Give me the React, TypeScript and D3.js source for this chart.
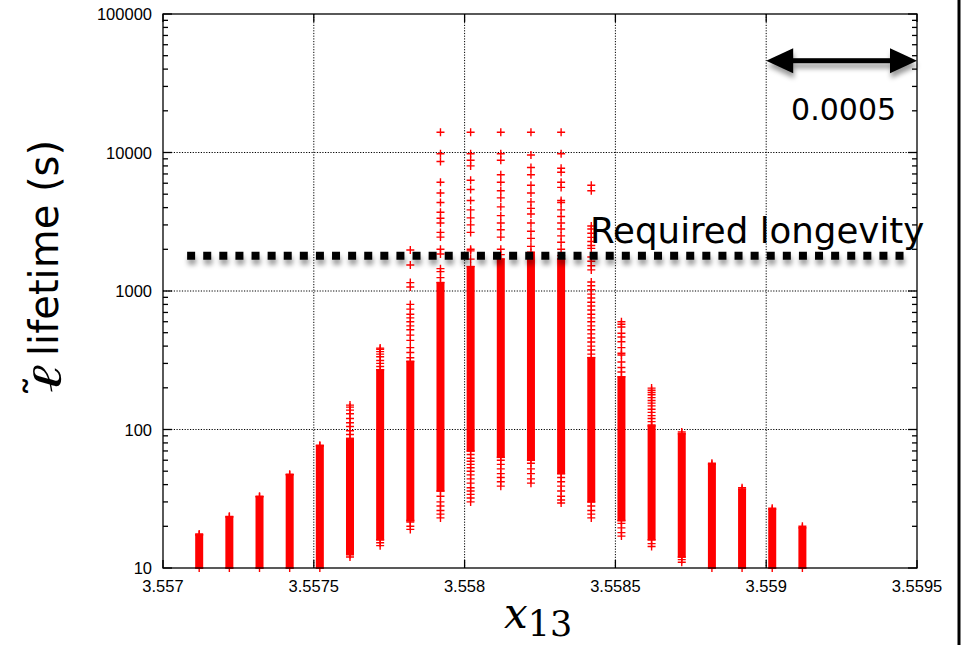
import React from 'react';
import * as d3 from 'd3';

// ---- data ----
const COLUMN_X = [
  3.55712, 3.55722, 3.55732, 3.55742, 3.55752, 3.55762, 3.55772, 3.55782, 3.55792, 3.55802,
  3.55812, 3.55822, 3.55832, 3.55842, 3.55852, 3.55862, 3.55872, 3.55882, 3.55892, 3.55902, 3.55912,
];
// dense (solid) range of each column of points
const DENSE_LOW = [10, 10, 10, 10, 10, 12.5, 16, 22, 36, 70, 63, 60, 48, 30, 22, 16, 12, 10, 10, 10, 10];
const DENSE_HIGH = [17.3, 23.3, 32.6, 47, 76, 86, 270, 310, 1150, 1500, 1700, 1900, 1700, 330, 240, 106, 93, 56, 37, 26.5, 19.5];
// individually visible points outside the dense range
const SPARSE_POINTS: number[][] = [
  [17.6],
  [23.6],
  [33],
  [47.5],
  [77],
  [12, 12.8, 92, 98, 105, 112, 120, 130, 138, 145, 150],
  [14.5, 15.2, 285, 300, 315, 335, 350, 365, 380, 387],
  [19, 20, 21.5, 330, 360, 390, 440, 480, 525, 560, 600, 640, 680, 740, 800, 1070, 1150, 1540, 1977],
  [23, 24.5, 26, 28, 30, 33, 1250, 1380, 1450, 1850, 2000, 2450, 2650, 3100, 3350, 3700, 4350, 5100, 6100, 8600, 9800, 14000],
  [30, 32, 34, 36, 38, 41, 44, 47, 50, 53, 56, 59, 62, 66, 1700, 1950, 2000, 2650, 3000, 3370, 3850, 4500, 5400, 6300, 8000, 8800, 9800, 14000],
  [39, 42, 45, 48, 52, 56, 60, 1830, 2000, 2450, 2770, 3100, 3500, 4050, 4700, 5300, 6100, 6900, 8800, 9800, 14000],
  [41, 44, 48, 52, 57, 2100, 2400, 2700, 3100, 3600, 3950, 4400, 5100, 5800, 6900, 7800, 9600, 14000],
  [29.5, 31, 33, 36, 39, 42, 45, 1800, 2000, 2250, 2500, 2800, 3100, 3450, 3850, 4350, 4500, 5600, 6100, 7200, 7700, 9800, 14000],
  [23, 24.5, 26, 28, 350, 375, 400, 428, 458, 490, 525, 560, 600, 640, 680, 730, 780, 830, 890, 950, 1020, 1090, 1160, 1420, 1520, 1640, 1760, 2030, 2130, 2280, 2440, 2610, 2800, 2950, 5300, 5800],
  [17, 18, 19.5, 21, 260, 280, 307, 345, 355, 390, 430, 465, 495, 550, 575, 600],
  [14.3, 15, 108, 114, 120, 126, 133, 140, 148, 155, 162, 170, 178, 185, 192, 199],
  [11, 11.5, 96],
  [57],
  [38],
  [27],
  [20],
];

const X_DOMAIN = [3.557, 3.5595];
const Y_DOMAIN = [10, 100000];
const X_TICKS = [3.557, 3.5575, 3.558, 3.5585, 3.559, 3.5595];
const X_TICK_LABELS = ['3.557', '3.5575', '3.558', '3.5585', '3.559', '3.5595'];
const Y_TICKS = [10, 100, 1000, 10000, 100000];
const Y_TICK_LABELS = ['10', '100', '1000', '10000', '100000'];

const LONGEVITY_VALUE = 1800;
const LONGEVITY_X = [3.55708, 3.55948];
const LONGEVITY_LABEL = 'Required longevity';
const ARROW_X = [3.559, 3.5595];
const ARROW_Y = 46000;
const ARROW_LABEL = '0.0005';

export default function App() {
  const W = 963;
  const H = 645;
  const left = 163, right = 917, top = 14, bottom = 568;
  const x = d3.scaleLinear().domain(X_DOMAIN).range([left, right]);
  const y = d3.scaleLog().domain(Y_DOMAIN).range([bottom, top]);
  const minorY = y.ticks().filter((t) => !Y_TICKS.some((m) => Math.abs(m - t) < 1e-9));

  const red = '#ff0000';
  const mk = 4;
  const plus = (cx: number, cy: number, key: string) => (
    <path key={key} d={`M${cx - mk},${cy}H${cx + mk}M${cx},${cy - mk}V${cy + mk}`} stroke={red} strokeWidth={1.4} fill="none" />
  );

  const ay = y(ARROW_Y);
  const ax0 = x(ARROW_X[0]);
  const ax1 = x(ARROW_X[1]);
  const headL = 27, headH = 12.5;

  return (
    <svg width={W} height={H} style={{ position: 'absolute', left: 0, top: 0, background: '#fff' }}>
      <defs>
        <filter id="shadow" filterUnits="userSpaceOnUse" x={0} y={0} width={W} height={H}>
          <feDropShadow dx={1} dy={5} stdDeviation={2.5} floodColor="#000" floodOpacity={0.4} />
        </filter>
      </defs>
      <rect x={0} y={0} width={W} height={H} fill="#fff" />

      {/* grid */}
      <g stroke="#000" strokeWidth={1} strokeDasharray="1.2,1.5">
        {X_TICKS.slice(1, -1).map((t, i) => (
          <line key={'gx' + i} x1={x(t)} x2={x(t)} y1={top} y2={bottom} />
        ))}
        {Y_TICKS.slice(1, -1).map((t, i) => (
          <line key={'gy' + i} x1={left} x2={right} y1={y(t)} y2={y(t)} />
        ))}
      </g>

      {/* points */}
      <g>
        {COLUMN_X.map((cx, i) => {
          const px = x(cx);
          const y0 = y(DENSE_HIGH[i]);
          const y1 = y(DENSE_LOW[i]);
          return (
            <g key={'c' + i}>
              <rect x={px - mk} y={y0 - 0.8} width={mk * 2} height={y1 - y0 + 1.6} fill={red} />
              {plus(px, y0, 'h' + i)}
              {plus(px, y1, 'l' + i)}
              {SPARSE_POINTS[i].map((v, j) => plus(px, y(v), `s${i}_${j}`))}
            </g>
          );
        })}
      </g>

      {/* frame and ticks */}
      <g stroke="#000" strokeWidth={1.3} fill="none">
        <rect x={left} y={top} width={right - left} height={bottom - top} />
        {X_TICKS.map((t, i) => (
          <g key={'xt' + i}>
            <line x1={x(t)} x2={x(t)} y1={bottom} y2={bottom - 8} />
            <line x1={x(t)} x2={x(t)} y1={top} y2={top + 8} />
          </g>
        ))}
        {Y_TICKS.map((t, i) => (
          <g key={'yt' + i}>
            <line x1={left} x2={left + 9} y1={y(t)} y2={y(t)} />
            <line x1={right} x2={right - 9} y1={y(t)} y2={y(t)} />
          </g>
        ))}
        {minorY.map((t, i) => (
          <g key={'ym' + i}>
            <line x1={left} x2={left + 5} y1={y(t)} y2={y(t)} />
            <line x1={right} x2={right - 5} y1={y(t)} y2={y(t)} />
          </g>
        ))}
      </g>

      {/* tick labels */}
      <g fontFamily="'Liberation Sans', Arial, sans-serif" fontSize={16.5} fill="#000">
        {X_TICKS.map((t, i) => (
          <text key={'xl' + i} x={x(t)} y={592} textAnchor="middle">{X_TICK_LABELS[i]}</text>
        ))}
        {Y_TICKS.map((t, i) => (
          <text key={'yl' + i} x={152} y={y(t)} textAnchor="end" dominantBaseline="central">{Y_TICK_LABELS[i]}</text>
        ))}
      </g>

      {/* required longevity line */}
      <line
        x1={x(LONGEVITY_X[0])}
        x2={x(LONGEVITY_X[1])}
        y1={y(LONGEVITY_VALUE)}
        y2={y(LONGEVITY_VALUE)}
        stroke="#000"
        strokeWidth={8}
        strokeDasharray="8,8.1"
        filter="url(#shadow)"
      />
      <text x={590} y={243} fontFamily="'DejaVu Sans', Verdana, sans-serif" fontSize={35.6} fill="#000">{LONGEVITY_LABEL}</text>

      {/* scale arrow */}
      <g filter="url(#shadow)" fill="#000" stroke="none">
        <rect x={ax0 + headL - 2} y={ay - 2.5} width={ax1 - ax0 - 2 * headL + 4} height={5} />
        <path d={`M${ax0},${ay}L${ax0 + headL},${ay - headH}L${ax0 + headL},${ay + headH}Z`} />
        <path d={`M${ax1},${ay}L${ax1 - headL},${ay - headH}L${ax1 - headL},${ay + headH}Z`} />
      </g>
      <text x={(ax0 + ax1) / 2 + 2} y={120} textAnchor="middle" fontFamily="'DejaVu Sans', Verdana, sans-serif" fontSize={30} fill="#000">{ARROW_LABEL}</text>

      {/* y axis title */}
      <g transform="translate(58,397) rotate(-90)" fill="#000">
        <text x={4} y={3} fontSize={42} fontStyle="italic" fontFamily="'DejaVu Serif', serif" fontWeight={300} textLength={28} lengthAdjust="spacingAndGlyphs">{'\u2113'}</text>
        <text x={0} y={-4} fontSize={40} fontFamily="'DejaVu Sans', sans-serif" textLength={22} lengthAdjust="spacingAndGlyphs">{'\u02DC'}</text>
        <text x={41} y={0} fontSize={40} fontFamily="'DejaVu Sans', Verdana, sans-serif">{'lifetime (s)'}</text>
      </g>
      {/* x axis title */}
      <text x={504} y={628} fontFamily="'DejaVu Serif', 'Liberation Serif', serif" fill="#000">
        <tspan fontSize={42} fontStyle="italic">x</tspan>
        <tspan fontSize={35} dy={8}>13</tspan>
      </text>

      {/* right edge border line */}
      <line x1={959} x2={959} y1={0} y2={H} stroke="#000" strokeWidth={3} />
    </svg>
  );
}
